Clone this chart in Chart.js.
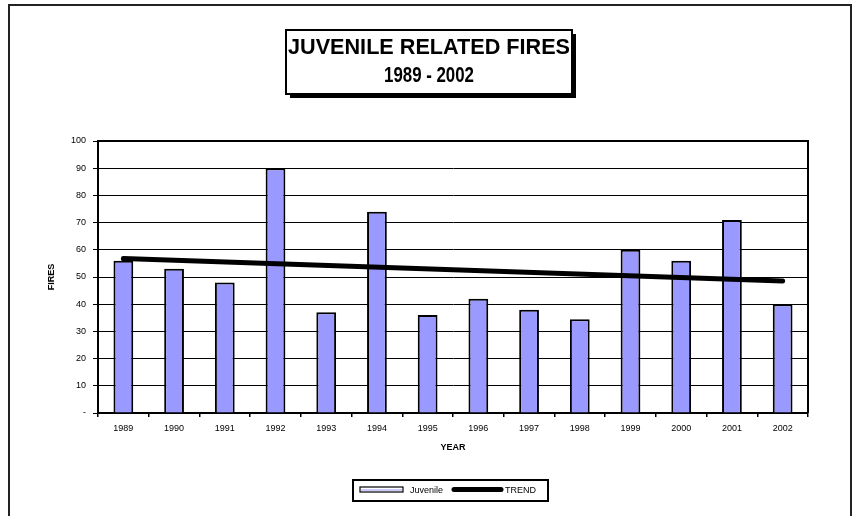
<!DOCTYPE html>
<html>
<head>
<meta charset="utf-8">
<script src="https://cdn.jsdelivr.net/npm/chart.js@4.4.0/dist/chart.umd.min.js"></script>
<style>
  html, body { margin: 0; padding: 0; background: #fff; }
  canvas { display: block; }
</style>
</head>
<body>
<canvas id="canvas" width="852" height="516"></canvas>
<script>
const years = ["1989", "1990", "1991", "1992", "1993", "1994", "1995",
  "1996", "1997", "1998", "1999", "2000", "2001", "2002"];
const juvenile = [56, 53, 48, 90, 37, 74, 36, 42, 38, 34.5, 60, 56, 71, 40];
// trend line at its two ends
const trend = [56.8, null, null, null, null, null, null,
  null, null, null, null, null, null, 48.5];
const yTickLabels = ["-", "10", "20", "30", "40", "50", "60", "70", "80", "90", "100"];
const titleLines = ["JUVENILE RELATED FIRES", "1989 - 2002"];

const FONT = "'Liberation Sans', Arial, sans-serif";
const barColor = "#9999ff";

const canvas = document.getElementById("canvas");
const ctx = canvas.getContext("2d");

// outer frame, boxed title with shadow, frame round plot area, legend box
const decor = {
  id: "decor",
  beforeDraw(chart) {
    const c = chart.ctx;
    c.save();
    c.fillStyle = "#fff";
    c.fillRect(0, 0, chart.width, chart.height);
    c.strokeStyle = "#222";
    c.lineWidth = 2;
    c.beginPath();
    c.moveTo(9, 530);
    c.lineTo(9, 5);
    c.lineTo(851, 5);
    c.lineTo(851, 530);
    c.stroke();
    c.restore();
  },
  afterDatasetsDraw(chart) {
    const c = chart.ctx;
    const a = chart.chartArea;
    c.save();
    c.strokeStyle = "#000";
    c.lineWidth = 2;
    c.beginPath();
    c.moveTo(a.left, a.top);
    c.lineTo(a.right, a.top);
    c.lineTo(a.right, a.bottom);
    c.stroke();
    c.restore();
  },
  afterDraw(chart) {
    const c = chart.ctx;
    c.save();
    // title box
    const bx = 286, by = 30, bw = 286, bh = 64;
    c.fillStyle = "#000";
    c.fillRect(bx + 4, by + 4, bw, bh);
    c.fillStyle = "#fff";
    c.fillRect(bx, by, bw, bh);
    c.strokeStyle = "#000";
    c.lineWidth = 2;
    c.strokeRect(bx, by, bw, bh);
    c.fillStyle = "#000";
    c.font = "bold 22px " + FONT;
    c.textAlign = "center";
    c.textBaseline = "alphabetic";
    c.fillText(titleLines[0], bx + bw / 2, 54, 282);
    c.fillText(titleLines[1], bx + bw / 2, 82, 90);

    // legend
    const lx = 353, ly = 480, lw = 195, lh = 21;
    c.lineWidth = 2;
    c.strokeRect(lx, ly, lw, lh);
    const my = ly + lh / 2 - 1;
    c.lineWidth = 1.2;
    c.fillStyle = "#fff";
    c.fillRect(360, my - 2.5, 43, 5);
    c.strokeRect(360, my - 2.5, 43, 5);
    c.strokeStyle = barColor;
    c.lineWidth = 1;
    c.beginPath();
    c.moveTo(361, my + 0.5);
    c.lineTo(402, my + 0.5);
    c.stroke();
    c.fillStyle = "#000";
    c.font = "9px " + FONT;
    c.textAlign = "left";
    c.textBaseline = "middle";
    c.fillText(chart.data.datasets[0].label, 410, my + 1);
    c.strokeStyle = "#000";
    c.lineWidth = 5;
    c.lineCap = "round";
    c.beginPath();
    c.moveTo(454, my);
    c.lineTo(501, my);
    c.stroke();
    c.fillText(chart.data.datasets[1].label, 505, my + 1);
    c.restore();
  }
};

const chart = new Chart(ctx, {
  type: "bar",
  data: {
    labels: years,
    datasets: [
      {
        label: "Juvenile",
        data: juvenile,
        backgroundColor: barColor,
        borderColor: "#000",
        borderWidth: 2,
        barPercentage: 0.39,
        categoryPercentage: 1,
        order: 2,
      },
      {
        type: "line",
        label: "TREND",
        data: trend,
        borderColor: "#000",
        borderWidth: 5,
        borderCapStyle: "round",
        pointRadius: 0,
        spanGaps: true,
        fill: false,
        order: 1,
      },
    ],
  },
  options: {
    responsive: false,
    animation: false,
    events: [],
    layout: {
      padding: { left: 40, right: 44, top: 141, bottom: 61 },
    },
    plugins: {
      legend: { display: false },
      title: { display: false },
      tooltip: { enabled: false },
    },
    scales: {
      x: {
        afterFit: (s) => { s.height = 42; },
        grid: {
          drawOnChartArea: false,
          drawTicks: true,
          tickLength: 4,
          color: "#000",
          lineWidth: 1.5,
          offset: true,
        },
        border: { display: true, color: "#000", width: 2 },
        ticks: {
          color: "#000",
          font: { family: FONT, size: 9 },
          padding: 6,
          maxRotation: 0,
          autoSkip: false,
        },
        title: {
          display: true,
          text: "YEAR",
          color: "#000",
          font: { family: FONT, size: 9, weight: "bold" },
          padding: { top: 0, bottom: 2 },
        },
      },
      y: {
        min: 0,
        max: 100,
        afterFit: (s) => { s.width = 58; },
        grid: {
          color: "#000",
          lineWidth: 1,
          drawTicks: true,
          tickLength: 5,
        },
        border: { display: true, color: "#000", width: 2 },
        ticks: {
          stepSize: 10,
          color: "#000",
          font: { family: FONT, size: 9 },
          padding: 7,
          callback: (v, i) => yTickLabels[i],
        },
        title: {
          display: true,
          text: "FIRES",
          color: "#000",
          font: { family: FONT, size: 9, weight: "bold" },
          padding: { top: 6, bottom: 0 },
        },
      },
    },
  },
  plugins: [decor],
});
</script>
</body>
</html>
